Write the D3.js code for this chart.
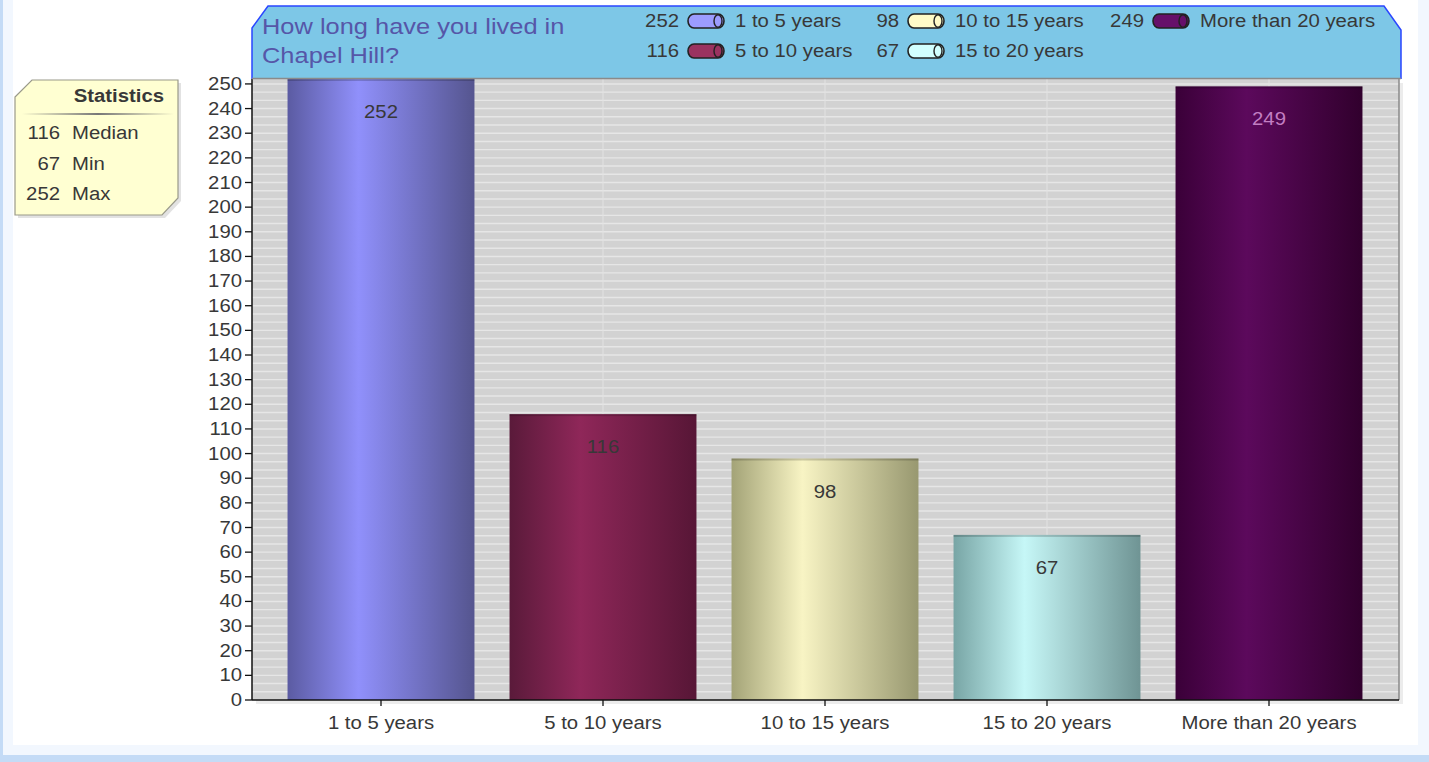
<!DOCTYPE html>
<html><head><meta charset="utf-8">
<script src="https://cdn.jsdelivr.net/npm/d3@7/dist/d3.min.js"></script>
<style>html,body{margin:0;padding:0;background:#fff;overflow:hidden}svg{display:block}</style>
</head><body>
<script>
const categories = ["1 to 5 years","5 to 10 years","10 to 15 years","15 to 20 years","More than 20 years"];
const values = [252,116,98,67,249];
const titleLines = ["How long have you lived in","Chapel Hill?"];
const statLabels = ["Median","Min","Max"];
const statValues = [116,67,252];
const yTicks = d3.range(0,251,10);
// colours: [left edge, highlight, right edge, legend swatch, value label]
const barColors = [
  ["#5b5ba2","#9090fb","#55558f","#9c9cff","#383838"],
  ["#5a1a3a","#8f2759","#571636","#9a3360","#383838"],
  ["#a3a377","#f8f4c4","#989870","#fffbc8","#383838"],
  ["#78a5a5","#c6f7f7","#6f9494","#d2ffff","#383838"],
  ["#3a0038","#5c095c","#31002d","#66106a","#c27ec2"]
];
const legendCols = [[0,1],[2,3],[4]];

const W=1429,H=762, SX=1.13;
const svg=d3.select("body").append("svg").attr("width",W).attr("height",H);
const defs=svg.append("defs");

function txt(g,x,y,s,opt={}){
  return g.append("text").attr("transform",`translate(${x},${y}) scale(${SX},1)`)
    .attr("text-anchor",opt.anchor||"start")
    .attr("font-family","'Liberation Sans',Arial,sans-serif")
    .attr("font-size",opt.size||18).attr("font-weight",opt.weight||"normal")
    .attr("fill",opt.fill||"#383838").text(s);
}

// page frame
svg.append("rect").attr("width",W).attr("height",H).attr("fill","#fff");
svg.append("rect").attr("x",0).attr("y",0).attr("width",13).attr("height",H).attr("fill","#f2f7fe");
svg.append("rect").attr("x",1418).attr("y",0).attr("width",11).attr("height",H).attr("fill","#f2f7fe");
svg.append("rect").attr("x",0).attr("y",745).attr("width",W).attr("height",17).attr("fill","#f2f7fe");
svg.append("rect").attr("x",0).attr("y",0).attr("width",3).attr("height",H).attr("fill","#c4dbf6");
svg.append("rect").attr("x",0).attr("y",755).attr("width",W).attr("height",7).attr("fill","#c4dbf6");

const x=d3.scaleBand().domain(categories).range([270,1380]).paddingInner(0.158).paddingOuter(0.079);
const y=d3.scaleLinear().domain([0,252]).range([700,79]);
const pL=252,pR=1399,pT=79,pB=700;

// plot shadow + background
svg.append("rect").attr("x",pL+4).attr("y",pT+4).attr("width",pR-pL).attr("height",pB-pT).attr("fill","#ececec");
svg.append("rect").attr("x",pL).attr("y",pT).attr("width",pR-pL).attr("height",pB-pT).attr("fill","#d2d2d2");
svg.append("g").selectAll("line").data(d3.range(10/3,252,10/3)).join("line")
  .attr("x1",pL).attr("x2",pR).attr("y1",d=>y(d)).attr("y2",d=>y(d))
  .attr("stroke","#e6e6e6").attr("stroke-width",1.4);
svg.append("g").selectAll("line").data(categories).join("line")
  .attr("x1",d=>x(d)+x.bandwidth()/2).attr("x2",d=>x(d)+x.bandwidth()/2).attr("y1",pT).attr("y2",pB)
  .attr("stroke","#e2e2e2").attr("stroke-width",1);
svg.append("line").attr("x1",pR).attr("x2",pR).attr("y1",pT).attr("y2",pB).attr("stroke","#8a8a8a").attr("stroke-width",1.5);

// bars
categories.forEach((c,i)=>{
  const gr=defs.append("linearGradient").attr("id","g"+i).attr("x1","0").attr("x2","1").attr("y1","0").attr("y2","0");
  gr.append("stop").attr("offset","0").attr("stop-color",barColors[i][0]);
  gr.append("stop").attr("offset","0.38").attr("stop-color",barColors[i][1]);
  gr.append("stop").attr("offset","1").attr("stop-color",barColors[i][2]);
});
const bars=svg.append("g");
bars.selectAll("rect.b").data(values).join("rect").attr("class","b")
  .attr("x",(d,i)=>x(categories[i])).attr("width",x.bandwidth())
  .attr("y",d=>y(d)).attr("height",d=>pB-y(d)).attr("fill",(d,i)=>`url(#g${i})`);
bars.selectAll("rect.t").data(values).join("rect").attr("class","t")
  .attr("x",(d,i)=>x(categories[i])).attr("width",x.bandwidth())
  .attr("y",d=>y(d)).attr("height",2).attr("fill","#000").attr("opacity",0.18);
values.forEach((v,i)=>{
  txt(svg,x(categories[i])+x.bandwidth()/2,y(v)+39,String(v),{anchor:"middle",fill:barColors[i][4]});
});

// axes
const ya=svg.append("g");
ya.append("line").attr("x1",pL).attr("x2",pL).attr("y1",pT).attr("y2",pB).attr("stroke","#111").attr("stroke-width",1.5);
yTicks.forEach(t=>{
  ya.append("line").attr("x1",pL-7).attr("x2",pL).attr("y1",y(t)).attr("y2",y(t)).attr("stroke","#111").attr("stroke-width",1.3);
  txt(ya,pL-10,y(t)+6,String(t),{anchor:"end"});
});
const xa=svg.append("g");
xa.append("line").attr("x1",pL).attr("x2",pR).attr("y1",pB).attr("y2",pB).attr("stroke","#111").attr("stroke-width",1.5);
categories.forEach(c=>{
  const cx=x(c)+x.bandwidth()/2;
  xa.append("line").attr("x1",cx).attr("x2",cx).attr("y1",pB).attr("y2",pB+6).attr("stroke","#111").attr("stroke-width",1.3);
  txt(xa,cx,729,c,{anchor:"middle"});
});

// title bar
const tb=svg.append("g");
tb.append("path").attr("d",`M${pL},${pT} L${pL},28 L268,6 L1384,6 L${pR+2},30 L${pR+2},${pT} Z`).attr("fill","#7dc7e7");
tb.append("path").attr("d",`M${pL},${pT} L${pL},28 L268,6 L1384,6 L${pR+2},30 L${pR+2},${pT}`).attr("fill","none").attr("stroke","#2a46ff").attr("stroke-width",1.5);
tb.append("line").attr("x1",pL).attr("x2",pR+2).attr("y1",pT-0.5).attr("y2",pT-0.5).attr("stroke","#8a8a8a").attr("stroke-width",1.5);
titleLines.forEach((t,i)=>txt(tb,262,34+i*29,t,{size:22.5,fill:"#5656a8"}));

// legend
const numRight=[679,899,1144];
legendCols.forEach((col,ci)=>{
  col.forEach((idx,ri)=>{
    const cy=21+ri*30;
    const nx=numRight[ci];
    txt(tb,nx,cy+6,String(values[idx]),{anchor:"end"});
    const sx=nx+9;
    tb.append("rect").attr("x",sx).attr("y",cy-7).attr("width",36).attr("height",14).attr("rx",6).attr("ry",7)
      .attr("fill",barColors[idx][3]).attr("stroke","#222").attr("stroke-width",1.6);
    tb.append("ellipse").attr("cx",sx+30).attr("cy",cy).attr("rx",4).attr("ry",6.3)
      .attr("fill",barColors[idx][3]).attr("stroke","#222").attr("stroke-width",1.4);
    txt(tb,sx+47,cy+6,categories[idx]);
  });
});

// statistics box
const sb=svg.append("g");
sb.append("path").attr("d","M18,100 L35,83 L181,83 L181,201 L165,218 L18,218 Z").attr("fill","#e2e2e2");
sb.append("path").attr("d","M15,97 L32,80 L178,80 L178,198 L162,215 L15,215 Z").attr("fill","#ffffd2").attr("stroke","#9a9a8a").attr("stroke-width",1.2);
const lg=defs.append("linearGradient").attr("id","sl");
lg.append("stop").attr("offset","0").attr("stop-color","#ffffd2");
lg.append("stop").attr("offset","0.5").attr("stop-color","#777");
lg.append("stop").attr("offset","1").attr("stop-color","#ffffd2");
sb.append("rect").attr("x",22).attr("y",113).attr("width",152).attr("height",2).attr("fill","url(#sl)");
txt(sb,164,102,"Statistics",{anchor:"end",weight:"bold"});
statLabels.forEach((l,i)=>{
  txt(sb,60,139+i*30.5,String(statValues[i]),{anchor:"end"});
  txt(sb,72,139+i*30.5,l);
});
</script>
</body></html>
